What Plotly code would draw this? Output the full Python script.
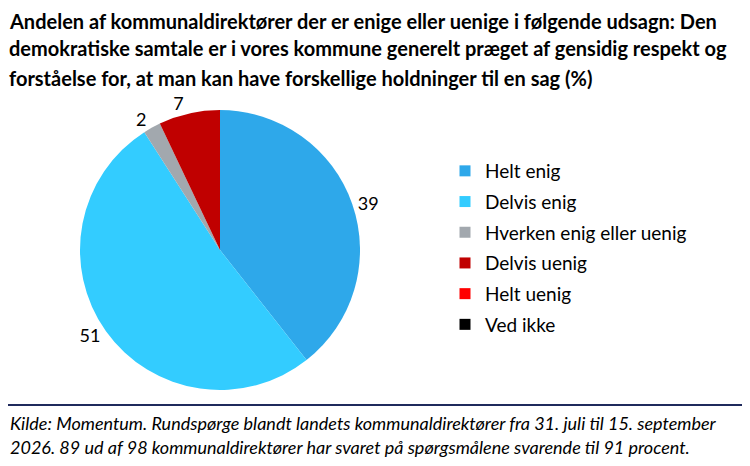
import plotly.graph_objects as go

categories = ["Helt enig", "Delvis enig", "Hverken enig eller uenig", "Delvis uenig", "Helt uenig", "Ved ikke"]
values = [39, 51, 2, 7, 0, 0]
colors = ["#2EA8EA", "#33CCFF", "#A2A8AE", "#C00000", "#FF0000", "#000000"]

title_lines = [
    "Andelen af kommunaldirektører der er enige eller uenige i følgende udsagn: Den",
    "demokratiske samtale er i vores kommune generelt præget af gensidig respekt og",
    "forståelse for, at man kan have forskellige holdninger til en sag (%)",
]
source_lines = [
    "Kilde: Momentum. Rundspørge blandt landets kommunaldirektører fra 31. juli til 15. september",
    "2026. 89 ud af 98 kommunaldirektører har svaret på spørgsmålene svarende til 91 procent.",
]

# page body has an 8px margin; lay out in reference pixels minus that offset
OFF = 8
W, H = 750 - OFF, 466 - OFF
cx, cy, r = 220 - OFF, 250 - OFF, 140
font = "Lato, 'Open Sans', sans-serif"

def py(y_ref):
    return 1 - (y_ref - OFF) / H

def px(x_ref):
    return (x_ref - OFF) / W

dom = dict(x=[(cx - r) / W, (cx + r) / W], y=[1 - (cy + r) / H, 1 - (cy - r) / H])
labels_txt = [str(v) if v > 0 else "" for v in values]
# split labels over two overlaid pies so neighbouring small labels are not pushed apart
sep_idx = {3}
txt_a = [t if i not in sep_idx else "" for i, t in enumerate(labels_txt)]
txt_b = [t if i in sep_idx else "" for i, t in enumerate(labels_txt)]

pie_common = dict(
    labels=categories, values=values, sort=False, direction="clockwise", rotation=0,
    textinfo="text", textposition="outside",
    outsidetextfont=dict(size=18, color="#000000", family=font),
    domain=dom, showlegend=False,
)

fig = go.Figure()
fig.add_trace(go.Pie(text=txt_b, marker=dict(colors=["rgba(0,0,0,0)"] * len(values), line=dict(width=0)),
                     hoverinfo="skip", **pie_common))
fig.add_trace(go.Pie(text=txt_a, marker=dict(colors=colors, line=dict(width=0)),
                     hoverinfo="label+value", **pie_common))

for i, (cat, col) in enumerate(zip(categories, colors)):
    fig.add_trace(go.Scatter(
        x=[None], y=[None], mode="markers", name=cat, legendgroup=f"g{i}",
        marker=dict(symbol="square", size=11, color=col, line=dict(width=0)),
        showlegend=True,
    ))

annotations = []
for k, (line, yc) in enumerate(zip(title_lines, [19, 48, 78])):
    if k == 0:
        pos = dict(y=1, yanchor="top")
    else:
        pos = dict(y=py(yc), yanchor="middle")
    annotations.append(dict(text="<b>" + line + "</b>", xref="paper", yref="paper", x=0,
                            xanchor="left", align="left", showarrow=False, borderpad=0,
                            font=dict(size=20, family=font, color="#000000"), **pos))
for line, yc in zip(source_lines, [423, 447]):
    annotations.append(dict(text="<i>" + line + "</i>", xref="paper", yref="paper", x=0, y=py(yc),
                            xanchor="left", yanchor="middle", align="left", showarrow=False,
                            font=dict(size=18, family=font, color="#000000")))

fig.update_layout(
    width=W, height=H,
    margin=dict(l=0, r=0, t=0, b=0),
    paper_bgcolor="white",
    plot_bgcolor="white",
    font=dict(family=font, color="#000000"),
    xaxis=dict(visible=False),
    yaxis=dict(visible=False),
    legend=dict(
        x=px(445), y=py(152), xanchor="left", yanchor="top",
        font=dict(size=19, family=font),
        itemwidth=30,
        tracegroupgap=3,
        bgcolor="rgba(0,0,0,0)",
    ),
    shapes=[
        dict(type="line", xref="paper", yref="paper", x0=0, x1=1, y0=py(4), y1=py(4),
             line=dict(color="#1F2A5C", width=2)),
        dict(type="line", xref="paper", yref="paper", x0=0, x1=1, y0=py(405), y1=py(405),
             line=dict(color="#1F2A5C", width=2)),
    ],
    annotations=annotations,
)

fig.write_html("out.html")
